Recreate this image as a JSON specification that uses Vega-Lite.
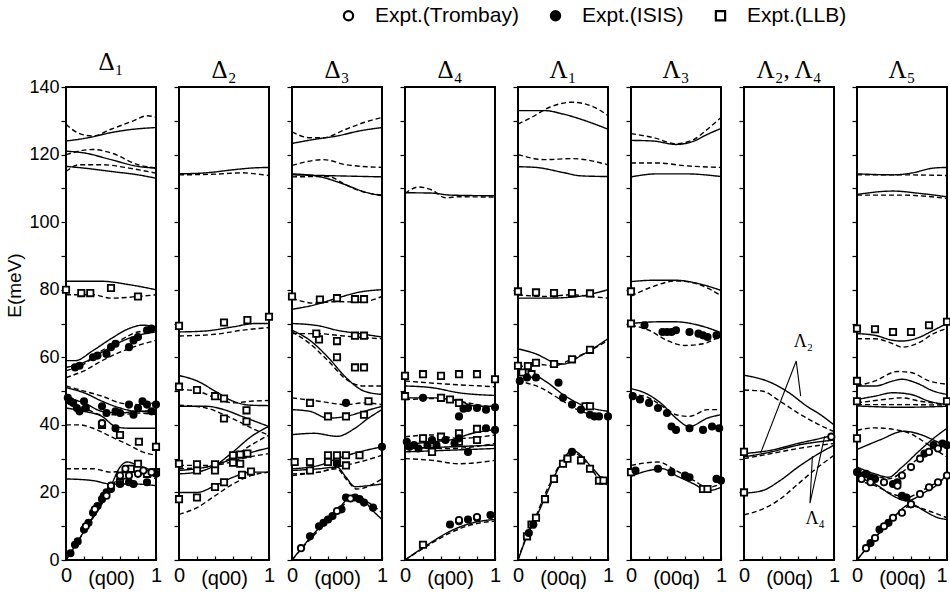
{
"$schema":"https://vega.github.io/schema/vega-lite/v6.json",
"padding":{"left":4,"top":5,"right":2,"bottom":2},
"background":"white",
"spacing":23,
"bounds":"flush",
"datasets":{
"lines":[
{"p":1,"c":"a","s":"s","x":0,"y":124},{"p":1,"c":"a","s":"s","x":0.25,"y":125},{"p":1,"c":"a","s":"s","x":0.5,"y":126.5},{"p":1,"c":"a","s":"s","x":0.75,"y":127.5},{"p":1,"c":"a","s":"s","x":1,"y":128},
{"p":1,"c":"b","s":"d","x":0,"y":129},{"p":1,"c":"b","s":"d","x":0.15,"y":126.2},{"p":1,"c":"b","s":"d","x":0.3,"y":125.5},{"p":1,"c":"b","s":"d","x":0.5,"y":127.5},{"p":1,"c":"b","s":"d","x":0.75,"y":130},{"p":1,"c":"b","s":"d","x":0.9,"y":131.5},{"p":1,"c":"b","s":"d","x":1,"y":131},
{"p":1,"c":"c","s":"s","x":0,"y":121},{"p":1,"c":"c","s":"s","x":0.2,"y":120.5},{"p":1,"c":"c","s":"s","x":0.5,"y":118.5},{"p":1,"c":"c","s":"s","x":0.8,"y":116.5},{"p":1,"c":"c","s":"s","x":1,"y":116},
{"p":1,"c":"d","s":"d","x":0,"y":120},{"p":1,"c":"d","s":"d","x":0.3,"y":121.5},{"p":1,"c":"d","s":"d","x":0.5,"y":120.5},{"p":1,"c":"d","s":"d","x":0.8,"y":117},{"p":1,"c":"d","s":"d","x":1,"y":116},
{"p":1,"c":"e","s":"d","x":0,"y":115},{"p":1,"c":"e","s":"d","x":0.15,"y":117},{"p":1,"c":"e","s":"d","x":0.4,"y":117},{"p":1,"c":"e","s":"d","x":0.7,"y":116},{"p":1,"c":"e","s":"d","x":1,"y":114.5},
{"p":1,"c":"f","s":"s","x":0,"y":116.5},{"p":1,"c":"f","s":"s","x":0.2,"y":116},{"p":1,"c":"f","s":"s","x":0.5,"y":115},{"p":1,"c":"f","s":"s","x":0.8,"y":114},{"p":1,"c":"f","s":"s","x":1,"y":113},
{"p":1,"c":"g","s":"s","x":0,"y":82.5},{"p":1,"c":"g","s":"s","x":0.4,"y":82.5},{"p":1,"c":"g","s":"s","x":0.7,"y":81.5},{"p":1,"c":"g","s":"s","x":1,"y":80},
{"p":1,"c":"h","s":"d","x":0,"y":78.5},{"p":1,"c":"h","s":"d","x":0.3,"y":78.5},{"p":1,"c":"h","s":"d","x":0.5,"y":77.5},{"p":1,"c":"h","s":"d","x":0.8,"y":78},{"p":1,"c":"h","s":"d","x":1,"y":78.5},
{"p":1,"c":"i","s":"s","x":0,"y":59},{"p":1,"c":"i","s":"s","x":0.1,"y":59},{"p":1,"c":"i","s":"s","x":0.3,"y":62},{"p":1,"c":"i","s":"s","x":0.5,"y":65.5},{"p":1,"c":"i","s":"s","x":0.7,"y":68.5},{"p":1,"c":"i","s":"s","x":0.85,"y":69.5},{"p":1,"c":"i","s":"s","x":1,"y":69},
{"p":1,"c":"j","s":"d","x":0,"y":56},{"p":1,"c":"j","s":"d","x":0.2,"y":58},{"p":1,"c":"j","s":"d","x":0.4,"y":62},{"p":1,"c":"j","s":"d","x":0.6,"y":65},{"p":1,"c":"j","s":"d","x":0.8,"y":67.5},{"p":1,"c":"j","s":"d","x":1,"y":68},
{"p":1,"c":"k","s":"s","x":0,"y":57},{"p":1,"c":"k","s":"s","x":0.2,"y":58.5},{"p":1,"c":"k","s":"s","x":0.4,"y":61.5},{"p":1,"c":"k","s":"s","x":0.6,"y":64.5},{"p":1,"c":"k","s":"s","x":0.8,"y":66.5},{"p":1,"c":"k","s":"s","x":1,"y":67.5},
{"p":1,"c":"l","s":"d","x":0,"y":54},{"p":1,"c":"l","s":"d","x":0.2,"y":56},{"p":1,"c":"l","s":"d","x":0.4,"y":59},{"p":1,"c":"l","s":"d","x":0.6,"y":61.5},{"p":1,"c":"l","s":"d","x":0.8,"y":63.5},{"p":1,"c":"l","s":"d","x":1,"y":65},
{"p":1,"c":"m","s":"d","x":0,"y":51.5},{"p":1,"c":"m","s":"d","x":0.2,"y":50},{"p":1,"c":"m","s":"d","x":0.4,"y":48.5},{"p":1,"c":"m","s":"d","x":0.6,"y":46.5},{"p":1,"c":"m","s":"d","x":0.8,"y":46},{"p":1,"c":"m","s":"d","x":1,"y":46.5},
{"p":1,"c":"n","s":"s","x":0,"y":51},{"p":1,"c":"n","s":"s","x":0.2,"y":49.5},{"p":1,"c":"n","s":"s","x":0.4,"y":47},{"p":1,"c":"n","s":"s","x":0.6,"y":45},{"p":1,"c":"n","s":"s","x":0.8,"y":44},{"p":1,"c":"n","s":"s","x":1,"y":44.5},
{"p":1,"c":"o","s":"s","x":0,"y":48},{"p":1,"c":"o","s":"s","x":0.2,"y":46.5},{"p":1,"c":"o","s":"s","x":0.4,"y":44},{"p":1,"c":"o","s":"s","x":0.6,"y":43.5},{"p":1,"c":"o","s":"s","x":0.8,"y":44},{"p":1,"c":"o","s":"s","x":1,"y":43.5},
{"p":1,"c":"q","s":"d","x":0,"y":47},{"p":1,"c":"q","s":"d","x":0.2,"y":45},{"p":1,"c":"q","s":"d","x":0.4,"y":43},{"p":1,"c":"q","s":"d","x":0.6,"y":43},{"p":1,"c":"q","s":"d","x":0.8,"y":43.5},{"p":1,"c":"q","s":"d","x":1,"y":43},
{"p":1,"c":"r","s":"s","x":0,"y":45},{"p":1,"c":"r","s":"s","x":0.2,"y":44},{"p":1,"c":"r","s":"s","x":0.4,"y":42.5},{"p":1,"c":"r","s":"s","x":0.55,"y":39.5},{"p":1,"c":"r","s":"s","x":0.7,"y":39},{"p":1,"c":"r","s":"s","x":1,"y":39},
{"p":1,"c":"t","s":"d","x":0,"y":40},{"p":1,"c":"t","s":"d","x":0.15,"y":40},{"p":1,"c":"t","s":"d","x":0.3,"y":39},{"p":1,"c":"t","s":"d","x":0.5,"y":36.5},{"p":1,"c":"t","s":"d","x":0.7,"y":34},{"p":1,"c":"t","s":"d","x":0.85,"y":32},{"p":1,"c":"t","s":"d","x":1,"y":31},
{"p":1,"c":"u","s":"d","x":0,"y":27},{"p":1,"c":"u","s":"d","x":0.3,"y":27},{"p":1,"c":"u","s":"d","x":0.5,"y":26},{"p":1,"c":"u","s":"d","x":0.7,"y":26.5},{"p":1,"c":"u","s":"d","x":1,"y":25.5},
{"p":1,"c":"v","s":"s","x":0,"y":24},{"p":1,"c":"v","s":"s","x":0.3,"y":23.5},{"p":1,"c":"v","s":"s","x":0.5,"y":22.5},{"p":1,"c":"v","s":"s","x":0.75,"y":22.5},{"p":1,"c":"v","s":"s","x":1,"y":22},
{"p":1,"c":"w","s":"s","x":0,"y":0},{"p":1,"c":"w","s":"s","x":0.2,"y":8.5},{"p":1,"c":"w","s":"s","x":0.35,"y":15},{"p":1,"c":"w","s":"s","x":0.5,"y":22},{"p":1,"c":"w","s":"s","x":0.6,"y":27.5},{"p":1,"c":"w","s":"s","x":0.68,"y":29},{"p":1,"c":"w","s":"s","x":0.8,"y":28},{"p":1,"c":"w","s":"s","x":1,"y":26},
{"p":1,"c":"z","s":"d","x":0,"y":0},{"p":1,"c":"z","s":"d","x":0.2,"y":8.3},{"p":1,"c":"z","s":"d","x":0.35,"y":14.5},{"p":1,"c":"z","s":"d","x":0.5,"y":21},{"p":1,"c":"z","s":"d","x":0.6,"y":25},{"p":1,"c":"z","s":"d","x":0.75,"y":26},{"p":1,"c":"z","s":"d","x":1,"y":24},

{"p":2,"c":"a","s":"s","x":0,"y":114.3},{"p":2,"c":"a","s":"s","x":0.3,"y":114.6},{"p":2,"c":"a","s":"s","x":0.6,"y":115.5},{"p":2,"c":"a","s":"s","x":0.8,"y":116},{"p":2,"c":"a","s":"s","x":1,"y":116.2},
{"p":2,"c":"b","s":"d","x":0,"y":114},{"p":2,"c":"b","s":"d","x":0.4,"y":114.2},{"p":2,"c":"b","s":"d","x":0.7,"y":114.6},{"p":2,"c":"b","s":"d","x":0.85,"y":114.3},{"p":2,"c":"b","s":"d","x":1,"y":113.8},
{"p":2,"c":"c","s":"s","x":0,"y":67.5},{"p":2,"c":"c","s":"s","x":0.3,"y":67.8},{"p":2,"c":"c","s":"s","x":0.6,"y":69},{"p":2,"c":"c","s":"s","x":0.85,"y":70},{"p":2,"c":"c","s":"s","x":1,"y":70},
{"p":2,"c":"d","s":"d","x":0,"y":66.3},{"p":2,"c":"d","s":"d","x":0.4,"y":66.8},{"p":2,"c":"d","s":"d","x":0.7,"y":68},{"p":2,"c":"d","s":"d","x":1,"y":68.8},
{"p":2,"c":"e","s":"s","x":0,"y":54.6},{"p":2,"c":"e","s":"s","x":0.2,"y":53},{"p":2,"c":"e","s":"s","x":0.4,"y":50},{"p":2,"c":"e","s":"s","x":0.6,"y":47},{"p":2,"c":"e","s":"s","x":0.8,"y":45.8},{"p":2,"c":"e","s":"s","x":1,"y":45.7},
{"p":2,"c":"f","s":"d","x":0,"y":50.5},{"p":2,"c":"f","s":"d","x":0.2,"y":50},{"p":2,"c":"f","s":"d","x":0.4,"y":48},{"p":2,"c":"f","s":"d","x":0.6,"y":46.5},{"p":2,"c":"f","s":"d","x":0.8,"y":47},{"p":2,"c":"f","s":"d","x":1,"y":47.2},
{"p":2,"c":"g","s":"s","x":0,"y":45.5},{"p":2,"c":"g","s":"s","x":0.3,"y":45.5},{"p":2,"c":"g","s":"s","x":0.5,"y":44.5},{"p":2,"c":"g","s":"s","x":0.7,"y":42.5},{"p":2,"c":"g","s":"s","x":0.85,"y":41},{"p":2,"c":"g","s":"s","x":1,"y":39.5},
{"p":2,"c":"h","s":"d","x":0,"y":45.8},{"p":2,"c":"h","s":"d","x":0.3,"y":45},{"p":2,"c":"h","s":"d","x":0.5,"y":43},{"p":2,"c":"h","s":"d","x":0.7,"y":40.5},{"p":2,"c":"h","s":"d","x":0.85,"y":38.5},{"p":2,"c":"h","s":"d","x":1,"y":37},
{"p":2,"c":"i","s":"s","x":0,"y":25.5},{"p":2,"c":"i","s":"s","x":0.2,"y":26},{"p":2,"c":"i","s":"s","x":0.4,"y":28},{"p":2,"c":"i","s":"s","x":0.6,"y":32},{"p":2,"c":"i","s":"s","x":0.8,"y":36.5},{"p":2,"c":"i","s":"s","x":1,"y":39.6},
{"p":2,"c":"j","s":"s","x":0,"y":26.5},{"p":2,"c":"j","s":"s","x":0.3,"y":27.5},{"p":2,"c":"j","s":"s","x":0.5,"y":29},{"p":2,"c":"j","s":"s","x":0.7,"y":31},{"p":2,"c":"j","s":"s","x":1,"y":33.2},
{"p":2,"c":"k","s":"d","x":0,"y":28},{"p":2,"c":"k","s":"d","x":0.3,"y":28},{"p":2,"c":"k","s":"d","x":0.5,"y":28.5},{"p":2,"c":"k","s":"d","x":0.7,"y":30},{"p":2,"c":"k","s":"d","x":1,"y":31.5},
{"p":2,"c":"l","s":"d","x":0,"y":27},{"p":2,"c":"l","s":"d","x":0.3,"y":27.5},{"p":2,"c":"l","s":"d","x":0.6,"y":30.5},{"p":2,"c":"l","s":"d","x":0.8,"y":34},{"p":2,"c":"l","s":"d","x":1,"y":37},
{"p":2,"c":"m","s":"s","x":0,"y":20},{"p":2,"c":"m","s":"s","x":0.2,"y":20},{"p":2,"c":"m","s":"s","x":0.4,"y":22},{"p":2,"c":"m","s":"s","x":0.6,"y":24.5},{"p":2,"c":"m","s":"s","x":0.8,"y":26},{"p":2,"c":"m","s":"s","x":1,"y":26},
{"p":2,"c":"n","s":"d","x":0,"y":13.5},{"p":2,"c":"n","s":"d","x":0.2,"y":15.5},{"p":2,"c":"n","s":"d","x":0.4,"y":19},{"p":2,"c":"n","s":"d","x":0.6,"y":22.5},{"p":2,"c":"n","s":"d","x":0.8,"y":25},{"p":2,"c":"n","s":"d","x":1,"y":26},

{"p":3,"c":"a","s":"s","x":0,"y":123.3},{"p":3,"c":"a","s":"s","x":0.25,"y":124.5},{"p":3,"c":"a","s":"s","x":0.5,"y":125.5},{"p":3,"c":"a","s":"s","x":0.75,"y":127},{"p":3,"c":"a","s":"s","x":1,"y":128},
{"p":3,"c":"b","s":"d","x":0,"y":126.7},{"p":3,"c":"b","s":"d","x":0.2,"y":125},{"p":3,"c":"b","s":"d","x":0.35,"y":125},{"p":3,"c":"b","s":"d","x":0.6,"y":127.5},{"p":3,"c":"b","s":"d","x":0.8,"y":129.5},{"p":3,"c":"b","s":"d","x":1,"y":131},
{"p":3,"c":"c","s":"d","x":0,"y":116.8},{"p":3,"c":"c","s":"d","x":0.35,"y":118.5},{"p":3,"c":"c","s":"d","x":0.6,"y":117},{"p":3,"c":"c","s":"d","x":1,"y":116.2},
{"p":3,"c":"d","s":"s","x":0,"y":114},{"p":3,"c":"d","s":"s","x":0.5,"y":113.7},{"p":3,"c":"d","s":"s","x":1,"y":113.4},
{"p":3,"c":"e","s":"s","x":0,"y":114.3},{"p":3,"c":"e","s":"s","x":0.3,"y":113.5},{"p":3,"c":"e","s":"s","x":0.55,"y":111.5},{"p":3,"c":"e","s":"s","x":0.8,"y":109},{"p":3,"c":"e","s":"s","x":1,"y":107.8},
{"p":3,"c":"f","s":"d","x":0,"y":113.4},{"p":3,"c":"f","s":"d","x":0.4,"y":113.5},{"p":3,"c":"f","s":"d","x":0.6,"y":111},{"p":3,"c":"f","s":"d","x":0.75,"y":109.3},{"p":3,"c":"f","s":"d","x":1,"y":108},
{"p":3,"c":"g","s":"s","x":0,"y":74.2},{"p":3,"c":"g","s":"s","x":0.25,"y":75.5},{"p":3,"c":"g","s":"s","x":0.5,"y":77.5},{"p":3,"c":"g","s":"s","x":0.75,"y":79.3},{"p":3,"c":"g","s":"s","x":1,"y":80},
{"p":3,"c":"h","s":"d","x":0,"y":77.5},{"p":3,"c":"h","s":"d","x":0.25,"y":76},{"p":3,"c":"h","s":"d","x":0.5,"y":76.5},{"p":3,"c":"h","s":"d","x":0.75,"y":76.3},{"p":3,"c":"h","s":"d","x":1,"y":78},
{"p":3,"c":"i","s":"s","x":0,"y":70},{"p":3,"c":"i","s":"s","x":0.3,"y":69.3},{"p":3,"c":"i","s":"s","x":0.5,"y":68},{"p":3,"c":"i","s":"s","x":0.75,"y":67},{"p":3,"c":"i","s":"s","x":1,"y":66},
{"p":3,"c":"j","s":"d","x":0,"y":67},{"p":3,"c":"j","s":"d","x":0.3,"y":67},{"p":3,"c":"j","s":"d","x":0.5,"y":66.5},{"p":3,"c":"j","s":"d","x":0.8,"y":65.8},{"p":3,"c":"j","s":"d","x":1,"y":65.5},
{"p":3,"c":"k","s":"s","x":0,"y":68},{"p":3,"c":"k","s":"s","x":0.2,"y":65},{"p":3,"c":"k","s":"s","x":0.4,"y":60},{"p":3,"c":"k","s":"s","x":0.6,"y":54},{"p":3,"c":"k","s":"s","x":0.8,"y":50},{"p":3,"c":"k","s":"s","x":1,"y":49},
{"p":3,"c":"l","s":"d","x":0,"y":67.5},{"p":3,"c":"l","s":"d","x":0.2,"y":64},{"p":3,"c":"l","s":"d","x":0.4,"y":59},{"p":3,"c":"l","s":"d","x":0.6,"y":53.5},{"p":3,"c":"l","s":"d","x":0.8,"y":51.5},{"p":3,"c":"l","s":"d","x":1,"y":51.5},
{"p":3,"c":"m","s":"d","x":0,"y":48},{"p":3,"c":"m","s":"d","x":0.3,"y":47},{"p":3,"c":"m","s":"d","x":0.6,"y":46},{"p":3,"c":"m","s":"d","x":0.8,"y":46.5},{"p":3,"c":"m","s":"d","x":1,"y":46},
{"p":3,"c":"n","s":"s","x":0,"y":44.5},{"p":3,"c":"n","s":"s","x":0.2,"y":44},{"p":3,"c":"n","s":"s","x":0.4,"y":42},{"p":3,"c":"n","s":"s","x":0.6,"y":42.5},{"p":3,"c":"n","s":"s","x":0.8,"y":44},{"p":3,"c":"n","s":"s","x":1,"y":45.5},
{"p":3,"c":"o","s":"s","x":0,"y":37.1},{"p":3,"c":"o","s":"s","x":0.25,"y":37.5},{"p":3,"c":"o","s":"s","x":0.5,"y":36.6},{"p":3,"c":"o","s":"s","x":0.7,"y":39},{"p":3,"c":"o","s":"s","x":0.85,"y":42},{"p":3,"c":"o","s":"s","x":1,"y":44.5},
{"p":3,"c":"q","s":"s","x":0,"y":27},{"p":3,"c":"q","s":"s","x":0.3,"y":28},{"p":3,"c":"q","s":"s","x":0.5,"y":30},{"p":3,"c":"q","s":"s","x":0.75,"y":32},{"p":3,"c":"q","s":"s","x":1,"y":33.5},
{"p":3,"c":"r","s":"d","x":0,"y":25.5},{"p":3,"c":"r","s":"d","x":0.3,"y":26},{"p":3,"c":"r","s":"d","x":0.5,"y":27.5},{"p":3,"c":"r","s":"d","x":0.75,"y":29},{"p":3,"c":"r","s":"d","x":1,"y":31},
{"p":3,"c":"t","s":"s","x":0,"y":26.5},{"p":3,"c":"t","s":"s","x":0.3,"y":27},{"p":3,"c":"t","s":"s","x":0.5,"y":27.5},{"p":3,"c":"t","s":"s","x":0.6,"y":24.5},{"p":3,"c":"t","s":"s","x":0.7,"y":21.7},{"p":3,"c":"t","s":"s","x":0.85,"y":22},{"p":3,"c":"t","s":"s","x":1,"y":22.5},
{"p":3,"c":"u","s":"d","x":0,"y":25},{"p":3,"c":"u","s":"d","x":0.3,"y":26},{"p":3,"c":"u","s":"d","x":0.5,"y":27},{"p":3,"c":"u","s":"d","x":0.6,"y":24},{"p":3,"c":"u","s":"d","x":0.72,"y":21},{"p":3,"c":"u","s":"d","x":1,"y":24},
{"p":3,"c":"v","s":"s","x":0,"y":0},{"p":3,"c":"v","s":"s","x":0.25,"y":8},{"p":3,"c":"v","s":"s","x":0.5,"y":14.5},{"p":3,"c":"v","s":"s","x":0.65,"y":18.5},{"p":3,"c":"v","s":"s","x":0.75,"y":18.5},{"p":3,"c":"v","s":"s","x":0.9,"y":14.5},{"p":3,"c":"v","s":"s","x":1,"y":12},
{"p":3,"c":"w","s":"d","x":0,"y":0},{"p":3,"c":"w","s":"d","x":0.25,"y":7.5},{"p":3,"c":"w","s":"d","x":0.5,"y":14},{"p":3,"c":"w","s":"d","x":0.7,"y":19},{"p":3,"c":"w","s":"d","x":0.85,"y":17},{"p":3,"c":"w","s":"d","x":1,"y":14},

{"p":4,"c":"a","s":"s","x":0,"y":108.7},{"p":4,"c":"a","s":"s","x":0.3,"y":108.6},{"p":4,"c":"a","s":"s","x":0.5,"y":108},{"p":4,"c":"a","s":"s","x":1,"y":107.8},
{"p":4,"c":"b","s":"d","x":0,"y":108.5},{"p":4,"c":"b","s":"d","x":0.15,"y":110.4},{"p":4,"c":"b","s":"d","x":0.3,"y":109.5},{"p":4,"c":"b","s":"d","x":0.45,"y":107.2},{"p":4,"c":"b","s":"d","x":0.6,"y":107.5},{"p":4,"c":"b","s":"d","x":1,"y":107.4},
{"p":4,"c":"c","s":"d","x":0,"y":53},{"p":4,"c":"c","s":"d","x":0.5,"y":52},{"p":4,"c":"c","s":"d","x":1,"y":51.3},
{"p":4,"c":"d","s":"s","x":0,"y":51.5},{"p":4,"c":"d","s":"s","x":0.3,"y":51},{"p":4,"c":"d","s":"s","x":0.6,"y":49.5},{"p":4,"c":"d","s":"s","x":1,"y":48.7},
{"p":4,"c":"e","s":"s","x":0,"y":48},{"p":4,"c":"e","s":"s","x":0.3,"y":48},{"p":4,"c":"e","s":"s","x":0.6,"y":47},{"p":4,"c":"e","s":"s","x":0.8,"y":45.5},{"p":4,"c":"e","s":"s","x":1,"y":45.5},
{"p":4,"c":"f","s":"d","x":0,"y":47.5},{"p":4,"c":"f","s":"d","x":0.4,"y":47.8},{"p":4,"c":"f","s":"d","x":0.7,"y":46.5},{"p":4,"c":"f","s":"d","x":1,"y":45},
{"p":4,"c":"g","s":"s","x":0,"y":34},{"p":4,"c":"g","s":"s","x":0.3,"y":35},{"p":4,"c":"g","s":"s","x":0.5,"y":35.5},{"p":4,"c":"g","s":"s","x":0.75,"y":37.5},{"p":4,"c":"g","s":"s","x":1,"y":38.6},
{"p":4,"c":"h","s":"d","x":0,"y":36.5},{"p":4,"c":"h","s":"d","x":0.3,"y":37},{"p":4,"c":"h","s":"d","x":0.6,"y":36},{"p":4,"c":"h","s":"d","x":1,"y":37},
{"p":4,"c":"i","s":"s","x":0,"y":33},{"p":4,"c":"i","s":"s","x":0.5,"y":33.5},{"p":4,"c":"i","s":"s","x":1,"y":34},
{"p":4,"c":"j","s":"s","x":0,"y":32},{"p":4,"c":"j","s":"s","x":0.5,"y":32.5},{"p":4,"c":"j","s":"s","x":1,"y":33},
{"p":4,"c":"k","s":"d","x":0,"y":33.5},{"p":4,"c":"k","s":"d","x":0.5,"y":33},{"p":4,"c":"k","s":"d","x":1,"y":34.5},
{"p":4,"c":"l","s":"d","x":0,"y":30},{"p":4,"c":"l","s":"d","x":0.3,"y":29.5},{"p":4,"c":"l","s":"d","x":0.6,"y":28.5},{"p":4,"c":"l","s":"d","x":1,"y":29.5},
{"p":4,"c":"m","s":"s","x":0,"y":0},{"p":4,"c":"m","s":"s","x":0.25,"y":4.5},{"p":4,"c":"m","s":"s","x":0.5,"y":8.5},{"p":4,"c":"m","s":"s","x":0.75,"y":11},{"p":4,"c":"m","s":"s","x":1,"y":12},
{"p":4,"c":"n","s":"d","x":0,"y":0},{"p":4,"c":"n","s":"d","x":0.25,"y":4.2},{"p":4,"c":"n","s":"d","x":0.5,"y":8},{"p":4,"c":"n","s":"d","x":0.75,"y":10.5},{"p":4,"c":"n","s":"d","x":1,"y":11.5},

{"p":5,"c":"a","s":"s","x":0,"y":133},{"p":5,"c":"a","s":"s","x":0.3,"y":133},{"p":5,"c":"a","s":"s","x":0.5,"y":132},{"p":5,"c":"a","s":"s","x":0.75,"y":130},{"p":5,"c":"a","s":"s","x":1,"y":127.5},
{"p":5,"c":"b","s":"d","x":0,"y":129},{"p":5,"c":"b","s":"d","x":0.15,"y":131},{"p":5,"c":"b","s":"d","x":0.35,"y":134},{"p":5,"c":"b","s":"d","x":0.6,"y":135.5},{"p":5,"c":"b","s":"d","x":0.85,"y":134},{"p":5,"c":"b","s":"d","x":1,"y":131.5},
{"p":5,"c":"c","s":"d","x":0,"y":120},{"p":5,"c":"c","s":"d","x":0.3,"y":118.5},{"p":5,"c":"c","s":"d","x":0.6,"y":118.8},{"p":5,"c":"c","s":"d","x":1,"y":117},
{"p":5,"c":"d","s":"s","x":0,"y":116.4},{"p":5,"c":"d","s":"s","x":0.2,"y":116.2},{"p":5,"c":"d","s":"s","x":0.5,"y":114.7},{"p":5,"c":"d","s":"s","x":0.7,"y":113.7},{"p":5,"c":"d","s":"s","x":1,"y":113.5},
{"p":5,"c":"e","s":"s","x":0,"y":77.5},{"p":5,"c":"e","s":"s","x":0.3,"y":77.5},{"p":5,"c":"e","s":"s","x":0.6,"y":77.8},{"p":5,"c":"e","s":"s","x":1,"y":80},
{"p":5,"c":"f","s":"d","x":0,"y":78.5},{"p":5,"c":"f","s":"d","x":0.3,"y":78},{"p":5,"c":"f","s":"d","x":0.6,"y":78.5},{"p":5,"c":"f","s":"d","x":0.8,"y":78},{"p":5,"c":"f","s":"d","x":1,"y":77.5},
{"p":5,"c":"g","s":"s","x":0,"y":62.5},{"p":5,"c":"g","s":"s","x":0.2,"y":61},{"p":5,"c":"g","s":"s","x":0.4,"y":58.5},{"p":5,"c":"g","s":"s","x":0.5,"y":58},{"p":5,"c":"g","s":"s","x":0.7,"y":60.5},{"p":5,"c":"g","s":"s","x":1,"y":65.5},
{"p":5,"c":"h","s":"d","x":0,"y":57},{"p":5,"c":"h","s":"d","x":0.2,"y":58},{"p":5,"c":"h","s":"d","x":0.4,"y":57.5},{"p":5,"c":"h","s":"d","x":0.6,"y":59.5},{"p":5,"c":"h","s":"d","x":0.8,"y":62},{"p":5,"c":"h","s":"d","x":1,"y":65},
{"p":5,"c":"i","s":"s","x":0,"y":55},{"p":5,"c":"i","s":"s","x":0.15,"y":55},{"p":5,"c":"i","s":"s","x":0.3,"y":53},{"p":5,"c":"i","s":"s","x":0.5,"y":49},{"p":5,"c":"i","s":"s","x":0.7,"y":46},{"p":5,"c":"i","s":"s","x":1,"y":44},
{"p":5,"c":"j","s":"d","x":0,"y":53},{"p":5,"c":"j","s":"d","x":0.25,"y":51},{"p":5,"c":"j","s":"d","x":0.5,"y":47},{"p":5,"c":"j","s":"d","x":0.7,"y":44},{"p":5,"c":"j","s":"d","x":1,"y":42.5},
{"p":5,"c":"k","s":"s","x":0,"y":0},{"p":5,"c":"k","s":"s","x":0.1,"y":7},{"p":5,"c":"k","s":"s","x":0.2,"y":12.5},{"p":5,"c":"k","s":"s","x":0.3,"y":18.5},{"p":5,"c":"k","s":"s","x":0.4,"y":24.5},{"p":5,"c":"k","s":"s","x":0.5,"y":29.5},{"p":5,"c":"k","s":"s","x":0.6,"y":32.5},{"p":5,"c":"k","s":"s","x":0.7,"y":31},{"p":5,"c":"k","s":"s","x":0.8,"y":28},{"p":5,"c":"k","s":"s","x":0.9,"y":25},{"p":5,"c":"k","s":"s","x":1,"y":22},
{"p":5,"c":"l","s":"d","x":0,"y":0},{"p":5,"c":"l","s":"d","x":0.1,"y":7.5},{"p":5,"c":"l","s":"d","x":0.2,"y":13},{"p":5,"c":"l","s":"d","x":0.3,"y":19.5},{"p":5,"c":"l","s":"d","x":0.4,"y":25},{"p":5,"c":"l","s":"d","x":0.5,"y":30},{"p":5,"c":"l","s":"d","x":0.6,"y":32},{"p":5,"c":"l","s":"d","x":0.7,"y":30.5},{"p":5,"c":"l","s":"d","x":0.8,"y":27.5},{"p":5,"c":"l","s":"d","x":0.9,"y":24},{"p":5,"c":"l","s":"d","x":1,"y":22.5},

{"p":6,"c":"a","s":"d","x":0,"y":126.2},{"p":6,"c":"a","s":"d","x":0.25,"y":125},{"p":6,"c":"a","s":"d","x":0.5,"y":123.2},{"p":6,"c":"a","s":"d","x":0.7,"y":124.5},{"p":6,"c":"a","s":"d","x":0.85,"y":127.5},{"p":6,"c":"a","s":"d","x":1,"y":131},
{"p":6,"c":"b","s":"s","x":0,"y":124.2},{"p":6,"c":"b","s":"s","x":0.25,"y":124},{"p":6,"c":"b","s":"s","x":0.5,"y":123},{"p":6,"c":"b","s":"s","x":0.7,"y":124},{"p":6,"c":"b","s":"s","x":0.85,"y":126},{"p":6,"c":"b","s":"s","x":1,"y":127.7},
{"p":6,"c":"c","s":"d","x":0,"y":117.5},{"p":6,"c":"c","s":"d","x":0.3,"y":117.5},{"p":6,"c":"c","s":"d","x":0.6,"y":116.7},{"p":6,"c":"c","s":"d","x":1,"y":116.2},
{"p":6,"c":"d","s":"s","x":0,"y":113.4},{"p":6,"c":"d","s":"s","x":0.3,"y":114.3},{"p":6,"c":"d","s":"s","x":0.6,"y":114.3},{"p":6,"c":"d","s":"s","x":1,"y":113.5},
{"p":6,"c":"e","s":"s","x":0,"y":82.4},{"p":6,"c":"e","s":"s","x":0.25,"y":82.8},{"p":6,"c":"e","s":"s","x":0.5,"y":82.8},{"p":6,"c":"e","s":"s","x":0.75,"y":81.8},{"p":6,"c":"e","s":"s","x":1,"y":79.8},
{"p":6,"c":"f","s":"d","x":0,"y":78.1},{"p":6,"c":"f","s":"d","x":0.25,"y":81},{"p":6,"c":"f","s":"d","x":0.5,"y":82.6},{"p":6,"c":"f","s":"d","x":0.75,"y":81.6},{"p":6,"c":"f","s":"d","x":1,"y":78.3},
{"p":6,"c":"g","s":"s","x":0,"y":70},{"p":6,"c":"g","s":"s","x":0.3,"y":70.5},{"p":6,"c":"g","s":"s","x":0.5,"y":70.5},{"p":6,"c":"g","s":"s","x":0.75,"y":69.5},{"p":6,"c":"g","s":"s","x":1,"y":67.3},
{"p":6,"c":"h","s":"d","x":0,"y":69.5},{"p":6,"c":"h","s":"d","x":0.2,"y":68},{"p":6,"c":"h","s":"d","x":0.4,"y":65},{"p":6,"c":"h","s":"d","x":0.6,"y":63.5},{"p":6,"c":"h","s":"d","x":0.8,"y":64},{"p":6,"c":"h","s":"d","x":1,"y":66.5},
{"p":6,"c":"i","s":"s","x":0,"y":50.7},{"p":6,"c":"i","s":"s","x":0.15,"y":49.5},{"p":6,"c":"i","s":"s","x":0.35,"y":46},{"p":6,"c":"i","s":"s","x":0.5,"y":42},{"p":6,"c":"i","s":"s","x":0.65,"y":39.5},{"p":6,"c":"i","s":"s","x":0.85,"y":42},{"p":6,"c":"i","s":"s","x":1,"y":43},
{"p":6,"c":"j","s":"d","x":0,"y":49},{"p":6,"c":"j","s":"d","x":0.15,"y":48.5},{"p":6,"c":"j","s":"d","x":0.35,"y":45.5},{"p":6,"c":"j","s":"d","x":0.5,"y":43},{"p":6,"c":"j","s":"d","x":0.65,"y":42.5},{"p":6,"c":"j","s":"d","x":0.85,"y":44.5},{"p":6,"c":"j","s":"d","x":1,"y":44.5},
{"p":6,"c":"k","s":"d","x":0,"y":28},{"p":6,"c":"k","s":"d","x":0.3,"y":29},{"p":6,"c":"k","s":"d","x":0.5,"y":26.5},{"p":6,"c":"k","s":"d","x":0.7,"y":23.5},{"p":6,"c":"k","s":"d","x":0.85,"y":21.5},{"p":6,"c":"k","s":"d","x":1,"y":22.5},
{"p":6,"c":"l","s":"s","x":0,"y":24.8},{"p":6,"c":"l","s":"s","x":0.2,"y":26.5},{"p":6,"c":"l","s":"s","x":0.35,"y":27},{"p":6,"c":"l","s":"s","x":0.5,"y":25},{"p":6,"c":"l","s":"s","x":0.7,"y":22.5},{"p":6,"c":"l","s":"s","x":0.85,"y":20.5},{"p":6,"c":"l","s":"s","x":1,"y":21.5},

{"p":7,"c":"a","s":"s","x":0,"y":54.7},{"p":7,"c":"a","s":"s","x":0.3,"y":52.5},{"p":7,"c":"a","s":"s","x":0.5,"y":49.5},{"p":7,"c":"a","s":"s","x":0.7,"y":45.5},{"p":7,"c":"a","s":"s","x":0.85,"y":43},{"p":7,"c":"a","s":"s","x":1,"y":40},
{"p":7,"c":"b","s":"d","x":0,"y":50.3},{"p":7,"c":"b","s":"d","x":0.2,"y":50},{"p":7,"c":"b","s":"d","x":0.4,"y":47},{"p":7,"c":"b","s":"d","x":0.6,"y":43.5},{"p":7,"c":"b","s":"d","x":0.8,"y":40.5},{"p":7,"c":"b","s":"d","x":1,"y":38},
{"p":7,"c":"c","s":"s","x":0,"y":31.5},{"p":7,"c":"c","s":"s","x":0.3,"y":32.5},{"p":7,"c":"c","s":"s","x":0.6,"y":34.5},{"p":7,"c":"c","s":"s","x":0.85,"y":36},{"p":7,"c":"c","s":"s","x":1,"y":37},
{"p":7,"c":"d","s":"s","x":0,"y":30.5},{"p":7,"c":"d","s":"s","x":0.3,"y":32},{"p":7,"c":"d","s":"s","x":0.6,"y":34},{"p":7,"c":"d","s":"s","x":1,"y":35.5},
{"p":7,"c":"e","s":"d","x":0,"y":30},{"p":7,"c":"e","s":"d","x":0.3,"y":31.5},{"p":7,"c":"e","s":"d","x":0.6,"y":33},{"p":7,"c":"e","s":"d","x":1,"y":34.5},
{"p":7,"c":"f","s":"s","x":0,"y":19.8},{"p":7,"c":"f","s":"s","x":0.2,"y":20.5},{"p":7,"c":"f","s":"s","x":0.4,"y":23.5},{"p":7,"c":"f","s":"s","x":0.6,"y":27.5},{"p":7,"c":"f","s":"s","x":0.8,"y":31},{"p":7,"c":"f","s":"s","x":1,"y":34},
{"p":7,"c":"g","s":"d","x":0,"y":13.4},{"p":7,"c":"g","s":"d","x":0.2,"y":15},{"p":7,"c":"g","s":"d","x":0.4,"y":18},{"p":7,"c":"g","s":"d","x":0.6,"y":22.5},{"p":7,"c":"g","s":"d","x":0.8,"y":27},{"p":7,"c":"g","s":"d","x":1,"y":31},

{"p":8,"c":"a","s":"s","x":0,"y":114.3},{"p":8,"c":"a","s":"s","x":0.4,"y":114},{"p":8,"c":"a","s":"s","x":0.6,"y":114.5},{"p":8,"c":"a","s":"s","x":0.85,"y":116},{"p":8,"c":"a","s":"s","x":1,"y":116.2},
{"p":8,"c":"b","s":"d","x":0,"y":114},{"p":8,"c":"b","s":"d","x":0.5,"y":114},{"p":8,"c":"b","s":"d","x":1,"y":113.8},
{"p":8,"c":"c","s":"s","x":0,"y":108.2},{"p":8,"c":"c","s":"s","x":0.4,"y":109.2},{"p":8,"c":"c","s":"s","x":0.7,"y":108.5},{"p":8,"c":"c","s":"s","x":1,"y":107.5},
{"p":8,"c":"d","s":"d","x":0,"y":108},{"p":8,"c":"d","s":"d","x":0.5,"y":108},{"p":8,"c":"d","s":"d","x":1,"y":107},
{"p":8,"c":"e","s":"s","x":0,"y":67},{"p":8,"c":"e","s":"s","x":0.2,"y":66.5},{"p":8,"c":"e","s":"s","x":0.4,"y":65},{"p":8,"c":"e","s":"s","x":0.5,"y":64.8},{"p":8,"c":"e","s":"s","x":0.7,"y":66},{"p":8,"c":"e","s":"s","x":0.85,"y":68},{"p":8,"c":"e","s":"s","x":1,"y":70},
{"p":8,"c":"f","s":"d","x":0,"y":65.5},{"p":8,"c":"f","s":"d","x":0.2,"y":65.5},{"p":8,"c":"f","s":"d","x":0.4,"y":64},{"p":8,"c":"f","s":"d","x":0.5,"y":63},{"p":8,"c":"f","s":"d","x":0.7,"y":64.5},{"p":8,"c":"f","s":"d","x":0.85,"y":67},{"p":8,"c":"f","s":"d","x":1,"y":68.5},
{"p":8,"c":"g","s":"d","x":0,"y":51.5},{"p":8,"c":"g","s":"d","x":0.2,"y":53},{"p":8,"c":"g","s":"d","x":0.45,"y":55.8},{"p":8,"c":"g","s":"d","x":0.6,"y":55.5},{"p":8,"c":"g","s":"d","x":0.8,"y":53},{"p":8,"c":"g","s":"d","x":1,"y":52},
{"p":8,"c":"h","s":"s","x":0,"y":51.5},{"p":8,"c":"h","s":"s","x":0.2,"y":51.5},{"p":8,"c":"h","s":"s","x":0.4,"y":53},{"p":8,"c":"h","s":"s","x":0.5,"y":53.5},{"p":8,"c":"h","s":"s","x":0.65,"y":52.5},{"p":8,"c":"h","s":"s","x":0.85,"y":50},{"p":8,"c":"h","s":"s","x":1,"y":49},
{"p":8,"c":"i","s":"s","x":0,"y":47.5},{"p":8,"c":"i","s":"s","x":0.2,"y":48.5},{"p":8,"c":"i","s":"s","x":0.4,"y":49.5},{"p":8,"c":"i","s":"s","x":0.6,"y":49},{"p":8,"c":"i","s":"s","x":0.8,"y":47},{"p":8,"c":"i","s":"s","x":1,"y":46},
{"p":8,"c":"j","s":"d","x":0,"y":46.5},{"p":8,"c":"j","s":"d","x":0.3,"y":47.5},{"p":8,"c":"j","s":"d","x":0.5,"y":48},{"p":8,"c":"j","s":"d","x":0.7,"y":47},{"p":8,"c":"j","s":"d","x":1,"y":46},
{"p":8,"c":"k","s":"s","x":0,"y":45.6},{"p":8,"c":"k","s":"s","x":0.5,"y":45.2},{"p":8,"c":"k","s":"s","x":1,"y":45.5},
{"p":8,"c":"l","s":"d","x":0,"y":46},{"p":8,"c":"l","s":"d","x":0.5,"y":46},{"p":8,"c":"l","s":"d","x":1,"y":45.8},
{"p":8,"c":"m","s":"d","x":0,"y":38.4},{"p":8,"c":"m","s":"d","x":0.19,"y":39.1},{"p":8,"c":"m","s":"d","x":0.52,"y":38.1},{"p":8,"c":"m","s":"d","x":0.71,"y":35.6},{"p":8,"c":"m","s":"d","x":0.85,"y":33},{"p":8,"c":"m","s":"d","x":1,"y":30.5},
{"p":8,"c":"n","s":"s","x":0,"y":32.7},{"p":8,"c":"n","s":"s","x":0.26,"y":35.6},{"p":8,"c":"n","s":"s","x":0.52,"y":38.1},{"p":8,"c":"n","s":"s","x":0.71,"y":37.1},{"p":8,"c":"n","s":"s","x":0.85,"y":35.5},{"p":8,"c":"n","s":"s","x":1,"y":33.7},
{"p":8,"c":"o","s":"s","x":0,"y":27.5},{"p":8,"c":"o","s":"s","x":0.2,"y":25.5},{"p":8,"c":"o","s":"s","x":0.35,"y":24.5},{"p":8,"c":"o","s":"s","x":0.5,"y":27.5},{"p":8,"c":"o","s":"s","x":0.7,"y":32.5},{"p":8,"c":"o","s":"s","x":0.85,"y":36},{"p":8,"c":"o","s":"s","x":1,"y":39},
{"p":8,"c":"q","s":"d","x":0,"y":27},{"p":8,"c":"q","s":"d","x":0.2,"y":25},{"p":8,"c":"q","s":"d","x":0.35,"y":24},{"p":8,"c":"q","s":"d","x":0.5,"y":26},{"p":8,"c":"q","s":"d","x":0.7,"y":30.5},{"p":8,"c":"q","s":"d","x":0.85,"y":33},{"p":8,"c":"q","s":"d","x":1,"y":35},
{"p":8,"c":"r","s":"s","x":0,"y":24.5},{"p":8,"c":"r","s":"s","x":0.2,"y":22.5},{"p":8,"c":"r","s":"s","x":0.4,"y":19},{"p":8,"c":"r","s":"s","x":0.55,"y":17.5},{"p":8,"c":"r","s":"s","x":0.75,"y":20},{"p":8,"c":"r","s":"s","x":0.9,"y":22.5},{"p":8,"c":"r","s":"s","x":1,"y":25.5},
{"p":8,"c":"t","s":"d","x":0,"y":23.5},{"p":8,"c":"t","s":"d","x":0.2,"y":22},{"p":8,"c":"t","s":"d","x":0.4,"y":19.5},{"p":8,"c":"t","s":"d","x":0.55,"y":18.5},{"p":8,"c":"t","s":"d","x":0.75,"y":21},{"p":8,"c":"t","s":"d","x":1,"y":24.5},
{"p":8,"c":"u","s":"s","x":0,"y":0},{"p":8,"c":"u","s":"s","x":0.2,"y":6.5},{"p":8,"c":"u","s":"s","x":0.4,"y":12.5},{"p":8,"c":"u","s":"s","x":0.6,"y":16.5},{"p":8,"c":"u","s":"s","x":0.75,"y":14.5},{"p":8,"c":"u","s":"s","x":0.9,"y":12.5},{"p":8,"c":"u","s":"s","x":1,"y":12},
{"p":8,"c":"v","s":"d","x":0,"y":0},{"p":8,"c":"v","s":"d","x":0.2,"y":6.5},{"p":8,"c":"v","s":"d","x":0.4,"y":12.5},{"p":8,"c":"v","s":"d","x":0.6,"y":16},{"p":8,"c":"v","s":"d","x":0.8,"y":14.5},{"p":8,"c":"v","s":"d","x":1,"y":12.5}
],
"pts":[
{"p":1,"t":"Expt.(LLB)","x":0,"y":80},{"p":1,"t":"Expt.(LLB)","x":0.17,"y":79},{"p":1,"t":"Expt.(LLB)","x":0.27,"y":79},{"p":1,"t":"Expt.(LLB)","x":0.5,"y":80.5},{"p":1,"t":"Expt.(LLB)","x":0.8,"y":78},{"p":1,"t":"Expt.(LLB)","x":0.4,"y":40},{"p":1,"t":"Expt.(LLB)","x":0.6,"y":37},{"p":1,"t":"Expt.(LLB)","x":0.81,"y":35},{"p":1,"t":"Expt.(LLB)","x":1,"y":33.5},{"p":1,"t":"Expt.(LLB)","x":0.6,"y":23},{"p":1,"t":"Expt.(LLB)","x":0.65,"y":25},{"p":1,"t":"Expt.(LLB)","x":0.72,"y":27},{"p":1,"t":"Expt.(LLB)","x":0.8,"y":28.5},{"p":1,"t":"Expt.(LLB)","x":0.9,"y":25.5},{"p":1,"t":"Expt.(LLB)","x":1,"y":26},
{"p":1,"t":"Expt.(ISIS)","x":0.1,"y":57},{"p":1,"t":"Expt.(ISIS)","x":0.15,"y":57.5},{"p":1,"t":"Expt.(ISIS)","x":0.3,"y":60},{"p":1,"t":"Expt.(ISIS)","x":0.35,"y":60.5},{"p":1,"t":"Expt.(ISIS)","x":0.45,"y":61},{"p":1,"t":"Expt.(ISIS)","x":0.5,"y":63},{"p":1,"t":"Expt.(ISIS)","x":0.55,"y":64},{"p":1,"t":"Expt.(ISIS)","x":0.7,"y":63},{"p":1,"t":"Expt.(ISIS)","x":0.75,"y":65},{"p":1,"t":"Expt.(ISIS)","x":0.8,"y":66},{"p":1,"t":"Expt.(ISIS)","x":0.9,"y":68},{"p":1,"t":"Expt.(ISIS)","x":0.95,"y":68.5},{"p":1,"t":"Expt.(ISIS)","x":0.02,"y":48},{"p":1,"t":"Expt.(ISIS)","x":0.05,"y":47},{"p":1,"t":"Expt.(ISIS)","x":0.08,"y":46.5},{"p":1,"t":"Expt.(ISIS)","x":0.12,"y":45},{"p":1,"t":"Expt.(ISIS)","x":0.15,"y":44},{"p":1,"t":"Expt.(ISIS)","x":0.2,"y":47},{"p":1,"t":"Expt.(ISIS)","x":0.22,"y":45},{"p":1,"t":"Expt.(ISIS)","x":0.4,"y":45.5},{"p":1,"t":"Expt.(ISIS)","x":0.45,"y":43.5},{"p":1,"t":"Expt.(ISIS)","x":0.55,"y":44},{"p":1,"t":"Expt.(ISIS)","x":0.6,"y":43.5},{"p":1,"t":"Expt.(ISIS)","x":0.7,"y":46},{"p":1,"t":"Expt.(ISIS)","x":0.75,"y":43},{"p":1,"t":"Expt.(ISIS)","x":0.8,"y":45},{"p":1,"t":"Expt.(ISIS)","x":0.85,"y":47},{"p":1,"t":"Expt.(ISIS)","x":0.9,"y":46},{"p":1,"t":"Expt.(ISIS)","x":0.95,"y":44},{"p":1,"t":"Expt.(ISIS)","x":1,"y":46},{"p":1,"t":"Expt.(ISIS)","x":0.55,"y":39},{"p":1,"t":"Expt.(ISIS)","x":0.05,"y":2},{"p":1,"t":"Expt.(ISIS)","x":0.1,"y":4.5},{"p":1,"t":"Expt.(ISIS)","x":0.13,"y":5.5},{"p":1,"t":"Expt.(ISIS)","x":0.2,"y":9},{"p":1,"t":"Expt.(ISIS)","x":0.25,"y":11},{"p":1,"t":"Expt.(ISIS)","x":0.3,"y":14},{"p":1,"t":"Expt.(ISIS)","x":0.35,"y":16},{"p":1,"t":"Expt.(ISIS)","x":0.4,"y":18},{"p":1,"t":"Expt.(ISIS)","x":0.42,"y":19},{"p":1,"t":"Expt.(ISIS)","x":0.45,"y":20},{"p":1,"t":"Expt.(ISIS)","x":0.5,"y":21},{"p":1,"t":"Expt.(ISIS)","x":0.6,"y":22.5},{"p":1,"t":"Expt.(ISIS)","x":0.7,"y":23},{"p":1,"t":"Expt.(ISIS)","x":0.75,"y":22.5},{"p":1,"t":"Expt.(ISIS)","x":0.9,"y":23},{"p":1,"t":"Expt.(ISIS)","x":1,"y":25.5},
{"p":1,"t":"Expt.(Trombay)","x":0.4,"y":40.5},{"p":1,"t":"Expt.(Trombay)","x":0.22,"y":10},{"p":1,"t":"Expt.(Trombay)","x":0.32,"y":15},{"p":1,"t":"Expt.(Trombay)","x":0.45,"y":19},{"p":1,"t":"Expt.(Trombay)","x":0.5,"y":22},{"p":1,"t":"Expt.(Trombay)","x":0.6,"y":25},{"p":1,"t":"Expt.(Trombay)","x":0.66,"y":27},{"p":1,"t":"Expt.(Trombay)","x":0.7,"y":25},{"p":1,"t":"Expt.(Trombay)","x":0.8,"y":25.5},{"p":1,"t":"Expt.(Trombay)","x":0.86,"y":26.5},{"p":1,"t":"Expt.(Trombay)","x":0.95,"y":26},

{"p":2,"t":"Expt.(LLB)","x":0,"y":69.3},{"p":2,"t":"Expt.(LLB)","x":0.5,"y":70.3},{"p":2,"t":"Expt.(LLB)","x":0.76,"y":71},{"p":2,"t":"Expt.(LLB)","x":1,"y":72},{"p":2,"t":"Expt.(LLB)","x":0,"y":51.3},{"p":2,"t":"Expt.(LLB)","x":0.2,"y":50.3},{"p":2,"t":"Expt.(LLB)","x":0.4,"y":48.5},{"p":2,"t":"Expt.(LLB)","x":0.5,"y":47.8},{"p":2,"t":"Expt.(LLB)","x":0.5,"y":41.9},{"p":2,"t":"Expt.(LLB)","x":0.75,"y":44.3},{"p":2,"t":"Expt.(LLB)","x":0.75,"y":41},{"p":2,"t":"Expt.(LLB)","x":0,"y":28.5},{"p":2,"t":"Expt.(LLB)","x":0.2,"y":28.3},{"p":2,"t":"Expt.(LLB)","x":0.4,"y":28.3},{"p":2,"t":"Expt.(LLB)","x":0.4,"y":26.5},{"p":2,"t":"Expt.(LLB)","x":0.2,"y":26.5},{"p":2,"t":"Expt.(LLB)","x":0.6,"y":31},{"p":2,"t":"Expt.(LLB)","x":0.68,"y":31.2},{"p":2,"t":"Expt.(LLB)","x":0.76,"y":31.5},{"p":2,"t":"Expt.(LLB)","x":0.6,"y":28.8},{"p":2,"t":"Expt.(LLB)","x":0.68,"y":28.5},{"p":2,"t":"Expt.(LLB)","x":0,"y":18},{"p":2,"t":"Expt.(LLB)","x":0.2,"y":18.5},{"p":2,"t":"Expt.(LLB)","x":0.4,"y":21.6},{"p":2,"t":"Expt.(LLB)","x":0.5,"y":23},{"p":2,"t":"Expt.(LLB)","x":0.7,"y":25.2},{"p":2,"t":"Expt.(LLB)","x":0.8,"y":26.2},

{"p":3,"t":"Expt.(LLB)","x":0.31,"y":77.1},{"p":3,"t":"Expt.(LLB)","x":0.5,"y":77.5},{"p":3,"t":"Expt.(LLB)","x":0.7,"y":77.2},{"p":3,"t":"Expt.(LLB)","x":0.8,"y":77.2},{"p":3,"t":"Expt.(LLB)","x":0,"y":78},{"p":3,"t":"Expt.(LLB)","x":0.3,"y":65.3},{"p":3,"t":"Expt.(LLB)","x":0.5,"y":64.8},{"p":3,"t":"Expt.(LLB)","x":0.7,"y":66.4},{"p":3,"t":"Expt.(LLB)","x":0.8,"y":66.4},{"p":3,"t":"Expt.(LLB)","x":0.27,"y":67},{"p":3,"t":"Expt.(LLB)","x":0.5,"y":60},{"p":3,"t":"Expt.(LLB)","x":0.7,"y":57},{"p":3,"t":"Expt.(LLB)","x":0.8,"y":57},{"p":3,"t":"Expt.(LLB)","x":0.2,"y":46.5},{"p":3,"t":"Expt.(LLB)","x":0.4,"y":42.5},{"p":3,"t":"Expt.(LLB)","x":0.6,"y":42.5},{"p":3,"t":"Expt.(LLB)","x":0.8,"y":43},{"p":3,"t":"Expt.(LLB)","x":0.85,"y":47},{"p":3,"t":"Expt.(LLB)","x":0.2,"y":29},{"p":3,"t":"Expt.(LLB)","x":0.4,"y":31},{"p":3,"t":"Expt.(LLB)","x":0.5,"y":31},{"p":3,"t":"Expt.(LLB)","x":0.6,"y":31},{"p":3,"t":"Expt.(LLB)","x":0.75,"y":31},{"p":3,"t":"Expt.(LLB)","x":0.4,"y":29},{"p":3,"t":"Expt.(LLB)","x":0.5,"y":29},{"p":3,"t":"Expt.(LLB)","x":0.6,"y":28},{"p":3,"t":"Expt.(LLB)","x":0.2,"y":26.5},{"p":3,"t":"Expt.(LLB)","x":0.03,"y":29},
{"p":3,"t":"Expt.(ISIS)","x":0.6,"y":46.5},{"p":3,"t":"Expt.(ISIS)","x":1,"y":33.5},{"p":3,"t":"Expt.(ISIS)","x":0.2,"y":7},{"p":3,"t":"Expt.(ISIS)","x":0.3,"y":10},{"p":3,"t":"Expt.(ISIS)","x":0.35,"y":11},{"p":3,"t":"Expt.(ISIS)","x":0.4,"y":12},{"p":3,"t":"Expt.(ISIS)","x":0.45,"y":13},{"p":3,"t":"Expt.(ISIS)","x":0.55,"y":15},{"p":3,"t":"Expt.(ISIS)","x":0.6,"y":18.5},{"p":3,"t":"Expt.(ISIS)","x":0.7,"y":18.5},{"p":3,"t":"Expt.(ISIS)","x":0.75,"y":18},{"p":3,"t":"Expt.(ISIS)","x":0.8,"y":17},{"p":3,"t":"Expt.(ISIS)","x":0.9,"y":15.5},{"p":3,"t":"Expt.(ISIS)","x":0.5,"y":28.5},
{"p":3,"t":"Expt.(Trombay)","x":0.1,"y":3.5},{"p":3,"t":"Expt.(Trombay)","x":0.5,"y":14.5},{"p":3,"t":"Expt.(Trombay)","x":0.65,"y":18.2},

{"p":4,"t":"Expt.(LLB)","x":0,"y":54.5},{"p":4,"t":"Expt.(LLB)","x":0.2,"y":55},{"p":4,"t":"Expt.(LLB)","x":0.4,"y":54.5},{"p":4,"t":"Expt.(LLB)","x":0.6,"y":55},{"p":4,"t":"Expt.(LLB)","x":0.8,"y":55},{"p":4,"t":"Expt.(LLB)","x":1,"y":53.5},{"p":4,"t":"Expt.(LLB)","x":0,"y":48.5},{"p":4,"t":"Expt.(LLB)","x":0.4,"y":48},{"p":4,"t":"Expt.(LLB)","x":0.5,"y":47.5},{"p":4,"t":"Expt.(LLB)","x":0.6,"y":46.5},{"p":4,"t":"Expt.(LLB)","x":0.2,"y":36},{"p":4,"t":"Expt.(LLB)","x":0.4,"y":36.5},{"p":4,"t":"Expt.(LLB)","x":0.6,"y":37.5},{"p":4,"t":"Expt.(LLB)","x":0.8,"y":38.8},{"p":4,"t":"Expt.(LLB)","x":0.8,"y":35.5},{"p":4,"t":"Expt.(LLB)","x":0.6,"y":35},{"p":4,"t":"Expt.(LLB)","x":0.3,"y":32},{"p":4,"t":"Expt.(LLB)","x":0.2,"y":4.5},
{"p":4,"t":"Expt.(ISIS)","x":0.2,"y":48},{"p":4,"t":"Expt.(ISIS)","x":0.65,"y":44.8},{"p":4,"t":"Expt.(ISIS)","x":0.7,"y":45},{"p":4,"t":"Expt.(ISIS)","x":0.8,"y":45},{"p":4,"t":"Expt.(ISIS)","x":0.9,"y":44.5},{"p":4,"t":"Expt.(ISIS)","x":1,"y":45.2},{"p":4,"t":"Expt.(ISIS)","x":0.6,"y":42.5},{"p":4,"t":"Expt.(ISIS)","x":0.02,"y":35},{"p":4,"t":"Expt.(ISIS)","x":0.05,"y":33.5},{"p":4,"t":"Expt.(ISIS)","x":0.1,"y":34},{"p":4,"t":"Expt.(ISIS)","x":0.15,"y":33},{"p":4,"t":"Expt.(ISIS)","x":0.25,"y":34},{"p":4,"t":"Expt.(ISIS)","x":0.3,"y":35.5},{"p":4,"t":"Expt.(ISIS)","x":0.35,"y":34},{"p":4,"t":"Expt.(ISIS)","x":0.45,"y":35.5},{"p":4,"t":"Expt.(ISIS)","x":0.55,"y":34.5},{"p":4,"t":"Expt.(ISIS)","x":0.6,"y":36},{"p":4,"t":"Expt.(ISIS)","x":0.7,"y":32},{"p":4,"t":"Expt.(ISIS)","x":0.9,"y":39},{"p":4,"t":"Expt.(ISIS)","x":1,"y":38.5},{"p":4,"t":"Expt.(ISIS)","x":0.5,"y":10.5},{"p":4,"t":"Expt.(ISIS)","x":0.6,"y":11.5},{"p":4,"t":"Expt.(ISIS)","x":0.7,"y":12},{"p":4,"t":"Expt.(ISIS)","x":0.8,"y":12.5},{"p":4,"t":"Expt.(ISIS)","x":0.95,"y":13.3},
{"p":4,"t":"Expt.(Trombay)","x":0.6,"y":11.8},{"p":4,"t":"Expt.(Trombay)","x":0.8,"y":12.7},

{"p":5,"t":"Expt.(LLB)","x":0,"y":79.5},{"p":5,"t":"Expt.(LLB)","x":0.2,"y":79.2},{"p":5,"t":"Expt.(LLB)","x":0.4,"y":79},{"p":5,"t":"Expt.(LLB)","x":0.6,"y":79},{"p":5,"t":"Expt.(LLB)","x":0.8,"y":78.9},{"p":5,"t":"Expt.(LLB)","x":0,"y":57.5},{"p":5,"t":"Expt.(LLB)","x":0.11,"y":57.4},{"p":5,"t":"Expt.(LLB)","x":0.2,"y":58.4},{"p":5,"t":"Expt.(LLB)","x":0.4,"y":58},{"p":5,"t":"Expt.(LLB)","x":0.6,"y":59.4},{"p":5,"t":"Expt.(LLB)","x":0.8,"y":62.2},{"p":5,"t":"Expt.(LLB)","x":0.05,"y":55.5},{"p":5,"t":"Expt.(LLB)","x":0.15,"y":55},{"p":5,"t":"Expt.(LLB)","x":0.75,"y":45.5},{"p":5,"t":"Expt.(LLB)","x":0.8,"y":45.5},{"p":5,"t":"Expt.(LLB)","x":0.1,"y":7},{"p":5,"t":"Expt.(LLB)","x":0.15,"y":10.5},{"p":5,"t":"Expt.(LLB)","x":0.2,"y":12.5},{"p":5,"t":"Expt.(LLB)","x":0.3,"y":18},{"p":5,"t":"Expt.(LLB)","x":0.4,"y":24},{"p":5,"t":"Expt.(LLB)","x":0.5,"y":28.5},{"p":5,"t":"Expt.(LLB)","x":0.55,"y":30},{"p":5,"t":"Expt.(LLB)","x":0.7,"y":29.5},{"p":5,"t":"Expt.(LLB)","x":0.8,"y":27},{"p":5,"t":"Expt.(LLB)","x":0.9,"y":23.5},{"p":5,"t":"Expt.(LLB)","x":0.95,"y":23.5},
{"p":5,"t":"Expt.(ISIS)","x":0.02,"y":53},{"p":5,"t":"Expt.(ISIS)","x":0.1,"y":54},{"p":5,"t":"Expt.(ISIS)","x":0.2,"y":54},{"p":5,"t":"Expt.(ISIS)","x":0.45,"y":52.5},{"p":5,"t":"Expt.(ISIS)","x":0.5,"y":48},{"p":5,"t":"Expt.(ISIS)","x":0.6,"y":46},{"p":5,"t":"Expt.(ISIS)","x":0.7,"y":44.5},{"p":5,"t":"Expt.(ISIS)","x":0.8,"y":43},{"p":5,"t":"Expt.(ISIS)","x":0.85,"y":42.5},{"p":5,"t":"Expt.(ISIS)","x":0.9,"y":42.5},{"p":5,"t":"Expt.(ISIS)","x":1,"y":42.5},{"p":5,"t":"Expt.(ISIS)","x":0.6,"y":32},{"p":5,"t":"Expt.(ISIS)","x":0.12,"y":8},{"p":5,"t":"Expt.(ISIS)","x":0.17,"y":10.5},

{"p":6,"t":"Expt.(LLB)","x":0,"y":79.5},{"p":6,"t":"Expt.(LLB)","x":0,"y":70},{"p":6,"t":"Expt.(LLB)","x":0,"y":26},{"p":6,"t":"Expt.(LLB)","x":0.8,"y":21},{"p":6,"t":"Expt.(LLB)","x":0.85,"y":21},
{"p":6,"t":"Expt.(ISIS)","x":0.15,"y":69.5},{"p":6,"t":"Expt.(ISIS)","x":0.35,"y":67.5},{"p":6,"t":"Expt.(ISIS)","x":0.4,"y":67.5},{"p":6,"t":"Expt.(ISIS)","x":0.45,"y":67.5},{"p":6,"t":"Expt.(ISIS)","x":0.5,"y":68},{"p":6,"t":"Expt.(ISIS)","x":0.65,"y":67.5},{"p":6,"t":"Expt.(ISIS)","x":0.75,"y":67},{"p":6,"t":"Expt.(ISIS)","x":0.8,"y":66.5},{"p":6,"t":"Expt.(ISIS)","x":0.85,"y":66},{"p":6,"t":"Expt.(ISIS)","x":0.95,"y":66.5},{"p":6,"t":"Expt.(ISIS)","x":0.02,"y":48.5},{"p":6,"t":"Expt.(ISIS)","x":0.1,"y":47.5},{"p":6,"t":"Expt.(ISIS)","x":0.2,"y":46.5},{"p":6,"t":"Expt.(ISIS)","x":0.3,"y":45},{"p":6,"t":"Expt.(ISIS)","x":0.4,"y":43.5},{"p":6,"t":"Expt.(ISIS)","x":0.45,"y":39.5},{"p":6,"t":"Expt.(ISIS)","x":0.5,"y":38.5},{"p":6,"t":"Expt.(ISIS)","x":0.65,"y":39},{"p":6,"t":"Expt.(ISIS)","x":0.8,"y":38.5},{"p":6,"t":"Expt.(ISIS)","x":0.9,"y":39.5},{"p":6,"t":"Expt.(ISIS)","x":0.98,"y":39},{"p":6,"t":"Expt.(ISIS)","x":0.05,"y":26.5},{"p":6,"t":"Expt.(ISIS)","x":0.3,"y":27},{"p":6,"t":"Expt.(ISIS)","x":0.45,"y":26},{"p":6,"t":"Expt.(ISIS)","x":0.6,"y":25},{"p":6,"t":"Expt.(ISIS)","x":0.65,"y":24.5},{"p":6,"t":"Expt.(ISIS)","x":0.95,"y":24},{"p":6,"t":"Expt.(ISIS)","x":1,"y":23.5},

{"p":7,"t":"Expt.(LLB)","x":0,"y":32},{"p":7,"t":"Expt.(LLB)","x":0,"y":20},{"p":7,"t":"Expt.(Trombay)","x":0.97,"y":36.5},

{"p":8,"t":"Expt.(LLB)","x":0,"y":68.5},{"p":8,"t":"Expt.(LLB)","x":0.2,"y":68.3},{"p":8,"t":"Expt.(LLB)","x":0.4,"y":67.5},{"p":8,"t":"Expt.(LLB)","x":0.6,"y":67.5},{"p":8,"t":"Expt.(LLB)","x":0.8,"y":69.5},{"p":8,"t":"Expt.(LLB)","x":1,"y":70.5},{"p":8,"t":"Expt.(LLB)","x":0,"y":53},{"p":8,"t":"Expt.(LLB)","x":0,"y":47},{"p":8,"t":"Expt.(LLB)","x":1,"y":47},{"p":8,"t":"Expt.(LLB)","x":0,"y":36},
{"p":8,"t":"Expt.(ISIS)","x":0,"y":26},{"p":8,"t":"Expt.(ISIS)","x":0.05,"y":25},{"p":8,"t":"Expt.(ISIS)","x":0.1,"y":25.5},{"p":8,"t":"Expt.(ISIS)","x":0.15,"y":24.5},{"p":8,"t":"Expt.(ISIS)","x":0.2,"y":24},{"p":8,"t":"Expt.(ISIS)","x":0.4,"y":22.5},{"p":8,"t":"Expt.(ISIS)","x":0.45,"y":23},{"p":8,"t":"Expt.(ISIS)","x":0.75,"y":31.5},{"p":8,"t":"Expt.(ISIS)","x":0.85,"y":34},{"p":8,"t":"Expt.(ISIS)","x":0.95,"y":34.5},{"p":8,"t":"Expt.(ISIS)","x":1,"y":34},{"p":8,"t":"Expt.(ISIS)","x":0.5,"y":19},{"p":8,"t":"Expt.(ISIS)","x":0.55,"y":18.5},{"p":8,"t":"Expt.(ISIS)","x":0.15,"y":5},{"p":8,"t":"Expt.(ISIS)","x":0.25,"y":9},{"p":8,"t":"Expt.(ISIS)","x":0.35,"y":11},
{"p":8,"t":"Expt.(Trombay)","x":0.05,"y":24},{"p":8,"t":"Expt.(Trombay)","x":0.15,"y":23},{"p":8,"t":"Expt.(Trombay)","x":0.3,"y":23},{"p":8,"t":"Expt.(Trombay)","x":0.45,"y":22},{"p":8,"t":"Expt.(Trombay)","x":0.5,"y":25},{"p":8,"t":"Expt.(Trombay)","x":0.6,"y":27.5},{"p":8,"t":"Expt.(Trombay)","x":0.7,"y":30},{"p":8,"t":"Expt.(Trombay)","x":0.8,"y":32},{"p":8,"t":"Expt.(Trombay)","x":0.9,"y":33},{"p":8,"t":"Expt.(Trombay)","x":0.6,"y":16.5},{"p":8,"t":"Expt.(Trombay)","x":0.7,"y":19.5},{"p":8,"t":"Expt.(Trombay)","x":0.8,"y":21.5},{"p":8,"t":"Expt.(Trombay)","x":0.9,"y":23},{"p":8,"t":"Expt.(Trombay)","x":1,"y":25},{"p":8,"t":"Expt.(Trombay)","x":0.1,"y":3.5},{"p":8,"t":"Expt.(Trombay)","x":0.2,"y":6.5},{"p":8,"t":"Expt.(Trombay)","x":0.3,"y":10},{"p":8,"t":"Expt.(Trombay)","x":0.4,"y":12.5},{"p":8,"t":"Expt.(Trombay)","x":0.5,"y":14},{"p":8,"t":"Expt.(Trombay)","x":0.6,"y":16.5}
],
"ann":[
{"c":"a","i":1,"x":0.185,"y":31.7},{"c":"a","i":2,"x":0.58,"y":58.9},{"c":"a","i":3,"x":0.63,"y":48.5},
{"c":"b","i":1,"x":0.76,"y":30.7},{"c":"b","i":2,"x":0.733,"y":16.8},{"c":"b","i":3,"x":0.896,"y":36.6}
],
"annText":[
{"label":"Λ₂","x":0.66,"y":64.5},{"label":"Λ₄","x":0.79,"y":12}
]
},
"hconcat":[
{"width":90,"height":473,"title":"Δ₁",
 "encoding":{"x":{"field":"x","type":"quantitative","scale":{"domain":[0,1],"nice":false},"axis":{"values":[0,0.2,0.4,0.6,0.8,1],"labelExpr":"datum.value==0?'0':datum.value==1?'1':''","title":"(q00)","titleY":8,"titleBaseline":"top","labelPadding":9,"tickSize":-4,"labelFlush":false,"labelOverlap":false}},
  "y":{"field":"y","type":"quantitative","scale":{"domain":[0,140],"nice":false},"axis":{"values":[0,10,20,30,40,50,60,70,80,90,100,110,120,130,140],"labelExpr":"datum.value%20==0?datum.label:''","title":"E(meV)","titleY":198,"titleFontSize":19,"tickSize":5,"labelPadding":2,"titlePadding":4}}},
 "layer":[
  {"data":{"name":"lines"},"transform":[{"filter":"datum.p==1"}],"mark":{"type":"line","interpolate":"monotone","color":"black","strokeWidth":1.4},"encoding":{"detail":{"field":"c"},"strokeDash":{"field":"s","type":"nominal","scale":{"domain":["s","d"],"range":[[1,0],[5,3]]},"legend":null}}},
  {"data":{"name":"pts"},"transform":[{"filter":"datum.p==1"}],"mark":{"type":"point","filled":true,"stroke":"black","strokeWidth":1.8,"size":40,"opacity":1},"encoding":{"shape":{"field":"t","type":"nominal","scale":{"domain":["Expt.(Trombay)","Expt.(ISIS)","Expt.(LLB)"],"range":["circle","circle","square"]},"legend":{"orient":"none","legendX":272,"legendY":-82,"direction":"horizontal","title":null}},"fill":{"field":"t","type":"nominal","scale":{"domain":["Expt.(Trombay)","Expt.(ISIS)","Expt.(LLB)"],"range":["white","black","white"]},"legend":{"orient":"none","legendX":272,"legendY":-82,"direction":"horizontal","title":null}}}}
 ]},
{"width":90,"height":473,"title":"Δ₂",
 "encoding":{"x":{"field":"x","type":"quantitative","scale":{"domain":[0,1],"nice":false},"axis":{"values":[0,0.2,0.4,0.6,0.8,1],"labelExpr":"datum.value==0?'0':datum.value==1?'1':''","title":"(q00)","titleY":8,"titleBaseline":"top","labelPadding":9,"tickSize":-4,"labelFlush":false,"labelOverlap":false}},
  "y":{"field":"y","type":"quantitative","scale":{"domain":[0,140],"nice":false},"axis":{"values":[0,10,20,30,40,50,60,70,80,90,100,110,120,130,140],"labels":false,"title":null,"tickSize":5}}},
 "layer":[
  {"data":{"name":"lines"},"transform":[{"filter":"datum.p==2"}],"mark":{"type":"line","interpolate":"monotone","color":"black","strokeWidth":1.4},"encoding":{"detail":{"field":"c"},"strokeDash":{"field":"s","type":"nominal","scale":{"domain":["s","d"],"range":[[1,0],[5,3]]},"legend":null}}},
  {"data":{"name":"pts"},"transform":[{"filter":"datum.p==2"}],"mark":{"type":"point","filled":true,"stroke":"black","strokeWidth":1.8,"size":40,"opacity":1},"encoding":{"shape":{"field":"t","type":"nominal"},"fill":{"field":"t","type":"nominal"}}}
 ]},
{"width":90,"height":473,"title":"Δ₃",
 "encoding":{"x":{"field":"x","type":"quantitative","scale":{"domain":[0,1],"nice":false},"axis":{"values":[0,0.2,0.4,0.6,0.8,1],"labelExpr":"datum.value==0?'0':datum.value==1?'1':''","title":"(q00)","titleY":8,"titleBaseline":"top","labelPadding":9,"tickSize":-4,"labelFlush":false,"labelOverlap":false}},
  "y":{"field":"y","type":"quantitative","scale":{"domain":[0,140],"nice":false},"axis":{"values":[0,10,20,30,40,50,60,70,80,90,100,110,120,130,140],"labels":false,"title":null,"tickSize":5}}},
 "layer":[
  {"data":{"name":"lines"},"transform":[{"filter":"datum.p==3"}],"mark":{"type":"line","interpolate":"monotone","color":"black","strokeWidth":1.4},"encoding":{"detail":{"field":"c"},"strokeDash":{"field":"s","type":"nominal","scale":{"domain":["s","d"],"range":[[1,0],[5,3]]},"legend":null}}},
  {"data":{"name":"pts"},"transform":[{"filter":"datum.p==3"}],"mark":{"type":"point","filled":true,"stroke":"black","strokeWidth":1.8,"size":40,"opacity":1},"encoding":{"shape":{"field":"t","type":"nominal"},"fill":{"field":"t","type":"nominal"}}}
 ]},
{"width":90,"height":473,"title":"Δ₄",
 "encoding":{"x":{"field":"x","type":"quantitative","scale":{"domain":[0,1],"nice":false},"axis":{"values":[0,0.2,0.4,0.6,0.8,1],"labelExpr":"datum.value==0?'0':datum.value==1?'1':''","title":"(q00)","titleY":8,"titleBaseline":"top","labelPadding":9,"tickSize":-4,"labelFlush":false,"labelOverlap":false}},
  "y":{"field":"y","type":"quantitative","scale":{"domain":[0,140],"nice":false},"axis":{"values":[0,10,20,30,40,50,60,70,80,90,100,110,120,130,140],"labels":false,"title":null,"tickSize":5}}},
 "layer":[
  {"data":{"name":"lines"},"transform":[{"filter":"datum.p==4"}],"mark":{"type":"line","interpolate":"monotone","color":"black","strokeWidth":1.4},"encoding":{"detail":{"field":"c"},"strokeDash":{"field":"s","type":"nominal","scale":{"domain":["s","d"],"range":[[1,0],[5,3]]},"legend":null}}},
  {"data":{"name":"pts"},"transform":[{"filter":"datum.p==4"}],"mark":{"type":"point","filled":true,"stroke":"black","strokeWidth":1.8,"size":40,"opacity":1},"encoding":{"shape":{"field":"t","type":"nominal"},"fill":{"field":"t","type":"nominal"}}}
 ]},
{"width":90,"height":473,"title":"Λ₁",
 "encoding":{"x":{"field":"x","type":"quantitative","scale":{"domain":[0,1],"nice":false},"axis":{"values":[0,0.2,0.4,0.6,0.8,1],"labelExpr":"datum.value==0?'0':datum.value==1?'1':''","title":"(00q)","titleY":8,"titleBaseline":"top","labelPadding":9,"tickSize":-4,"labelFlush":false,"labelOverlap":false}},
  "y":{"field":"y","type":"quantitative","scale":{"domain":[0,140],"nice":false},"axis":{"values":[0,10,20,30,40,50,60,70,80,90,100,110,120,130,140],"labels":false,"title":null,"tickSize":5}}},
 "layer":[
  {"data":{"name":"lines"},"transform":[{"filter":"datum.p==5"}],"mark":{"type":"line","interpolate":"monotone","color":"black","strokeWidth":1.4},"encoding":{"detail":{"field":"c"},"strokeDash":{"field":"s","type":"nominal","scale":{"domain":["s","d"],"range":[[1,0],[5,3]]},"legend":null}}},
  {"data":{"name":"pts"},"transform":[{"filter":"datum.p==5"}],"mark":{"type":"point","filled":true,"stroke":"black","strokeWidth":1.8,"size":40,"opacity":1},"encoding":{"shape":{"field":"t","type":"nominal"},"fill":{"field":"t","type":"nominal"}}}
 ]},
{"width":90,"height":473,"title":"Λ₃",
 "encoding":{"x":{"field":"x","type":"quantitative","scale":{"domain":[0,1],"nice":false},"axis":{"values":[0,0.2,0.4,0.6,0.8,1],"labelExpr":"datum.value==0?'0':datum.value==1?'1':''","title":"(00q)","titleY":8,"titleBaseline":"top","labelPadding":9,"tickSize":-4,"labelFlush":false,"labelOverlap":false}},
  "y":{"field":"y","type":"quantitative","scale":{"domain":[0,140],"nice":false},"axis":{"values":[0,10,20,30,40,50,60,70,80,90,100,110,120,130,140],"labels":false,"title":null,"tickSize":5}}},
 "layer":[
  {"data":{"name":"lines"},"transform":[{"filter":"datum.p==6"}],"mark":{"type":"line","interpolate":"monotone","color":"black","strokeWidth":1.4},"encoding":{"detail":{"field":"c"},"strokeDash":{"field":"s","type":"nominal","scale":{"domain":["s","d"],"range":[[1,0],[5,3]]},"legend":null}}},
  {"data":{"name":"pts"},"transform":[{"filter":"datum.p==6"}],"mark":{"type":"point","filled":true,"stroke":"black","strokeWidth":1.8,"size":40,"opacity":1},"encoding":{"shape":{"field":"t","type":"nominal"},"fill":{"field":"t","type":"nominal"}}}
 ]},
{"width":90,"height":473,"title":"Λ₂, Λ₄",
 "encoding":{"x":{"field":"x","type":"quantitative","scale":{"domain":[0,1],"nice":false},"axis":{"values":[0,0.2,0.4,0.6,0.8,1],"labelExpr":"datum.value==0?'0':datum.value==1?'1':''","title":"(00q)","titleY":8,"titleBaseline":"top","labelPadding":9,"tickSize":-4,"labelFlush":false,"labelOverlap":false}},
  "y":{"field":"y","type":"quantitative","scale":{"domain":[0,140],"nice":false},"axis":{"values":[0,10,20,30,40,50,60,70,80,90,100,110,120,130,140],"labels":false,"title":null,"tickSize":5}}},
 "layer":[
  {"data":{"name":"lines"},"transform":[{"filter":"datum.p==7"}],"mark":{"type":"line","interpolate":"monotone","color":"black","strokeWidth":1.4},"encoding":{"detail":{"field":"c"},"strokeDash":{"field":"s","type":"nominal","scale":{"domain":["s","d"],"range":[[1,0],[5,3]]},"legend":null}}},
  {"data":{"name":"ann"},"mark":{"type":"line","interpolate":"linear","color":"black","strokeWidth":1.1},"encoding":{"detail":{"field":"c"},"order":{"field":"i","type":"quantitative"}}},
  {"data":{"name":"annText"},"mark":{"type":"text","font":"Liberation Serif","fontSize":18,"color":"black"},"encoding":{"text":{"field":"label"}}},
  {"data":{"name":"pts"},"transform":[{"filter":"datum.p==7"}],"mark":{"type":"point","filled":true,"stroke":"black","strokeWidth":1.8,"size":40,"opacity":1},"encoding":{"shape":{"field":"t","type":"nominal"},"fill":{"field":"t","type":"nominal"}}}
 ]},
{"width":90,"height":473,"title":"Λ₅",
 "encoding":{"x":{"field":"x","type":"quantitative","scale":{"domain":[0,1],"nice":false},"axis":{"values":[0,0.2,0.4,0.6,0.8,1],"labelExpr":"datum.value==0?'0':datum.value==1?'1':''","labelAlign":{"condition":{"test":"datum.value==1","value":"right"},"value":"center"},"title":"(00q)","titleY":8,"titleBaseline":"top","labelPadding":9,"tickSize":-4,"labelFlush":false,"labelOverlap":false}},
  "y":{"field":"y","type":"quantitative","scale":{"domain":[0,140],"nice":false},"axis":{"values":[0,10,20,30,40,50,60,70,80,90,100,110,120,130,140],"labels":false,"title":null,"tickSize":5}}},
 "layer":[
  {"data":{"name":"lines"},"transform":[{"filter":"datum.p==8"}],"mark":{"type":"line","interpolate":"monotone","color":"black","strokeWidth":1.4},"encoding":{"detail":{"field":"c"},"strokeDash":{"field":"s","type":"nominal","scale":{"domain":["s","d"],"range":[[1,0],[5,3]]},"legend":null}}},
  {"data":{"name":"pts"},"transform":[{"filter":"datum.p==8"}],"mark":{"type":"point","filled":true,"stroke":"black","strokeWidth":1.8,"size":40,"opacity":1},"encoding":{"shape":{"field":"t","type":"nominal"},"fill":{"field":"t","type":"nominal"}}}
 ]}
],
"config":{
 "view":{"stroke":"black","strokeWidth":2},
 "font":"Liberation Sans",
 "axis":{"grid":false,"domain":false,"labelFont":"Liberation Sans","titleFont":"Liberation Sans","labelColor":"black","titleColor":"black","tickColor":"black","tickWidth":1.2,"labelFontSize":18,"titleFontSize":18,"titleFontWeight":"normal"},
 "axisX":{"labelFontSize":20,"titleFontSize":20},
 "title":{"font":"Liberation Serif","fontSize":25,"fontWeight":"normal","offset":3,"color":"black","anchor":"middle"},
 "legend":{"labelFont":"Liberation Sans","labelFontSize":21,"labelColor":"black","symbolSize":85,"symbolStrokeWidth":2.2,"columnPadding":26,"labelOffset":16}
}
}
